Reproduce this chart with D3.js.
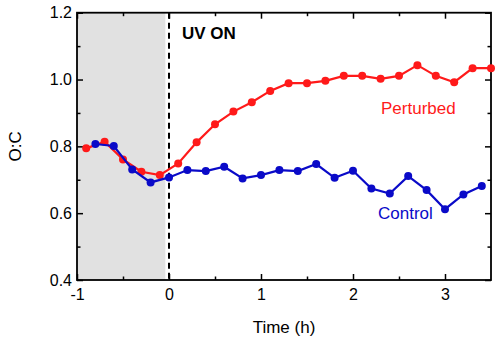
<!DOCTYPE html>
<html><head><meta charset="utf-8">
<script src="https://cdn.jsdelivr.net/npm/d3@7"></script>
<style>body{margin:0;background:#fff}svg{display:block;font-family:"Liberation Sans",Arial,sans-serif}</style>
</head><body><svg id="c" width="500" height="343"></svg>
<script>
const perturbedTime = [-0.9,-0.7,-0.5,-0.3,-0.1,0.1,0.3,0.5,0.7,0.9,1.1,1.3,1.5,1.7,1.9,2.1,2.3,2.5,2.7,2.9,3.1,3.3,3.5];
const perturbedOC   = [0.794,0.814,0.761,0.724,0.714,0.749,0.812,0.866,0.904,0.932,0.966,0.989,0.989,0.996,1.011,1.011,1.002,1.011,1.043,1.011,0.992,1.034,1.034];
const controlTime = [-0.8,-0.6,-0.4,-0.2,0,0.2,0.4,0.6,0.8,1.0,1.2,1.4,1.6,1.8,2.0,2.2,2.4,2.6,2.8,3.0,3.2,3.4];
const controlOC   = [0.807,0.801,0.731,0.692,0.707,0.729,0.726,0.739,0.704,0.714,0.729,0.726,0.747,0.706,0.727,0.674,0.659,0.711,0.669,0.612,0.656,0.681];
const xTicks = [-1,0,1,2,3];
const xTickLabels = ["-1","0","1","2","3"];
const yTicks = [0.4,0.6,0.8,1.0,1.2];
const yTickLabels = ["0.4","0.6","0.8","1.0","1.2"];
const xMinor = [-0.5,0.5,1.5,2.5];
const yMinor = [0.5,0.7,0.9,1.1];

const svg = d3.select("#c");
const L=77, R=491, T=12.7, B=280;
const x = d3.scaleLinear().domain([-1,3.5]).range([L,R]);
const y = d3.scaleLinear().domain([0.4,1.2]).range([B,T]);

// shaded pre-UV region
svg.append("rect").attr("x",x(-1)).attr("y",T).attr("width",x(-0.04)-x(-1)).attr("height",B-T).attr("fill","#e1e1e1");

// dashed UV line
svg.append("line").attr("x1",x(0)).attr("x2",x(0)).attr("y1",T).attr("y2",B)
  .attr("stroke","#000").attr("stroke-width",2).attr("stroke-dasharray","6,4");

// axes
const fs = "16px";
const axB = svg.append("g").attr("transform",`translate(0,${B})`)
  .call(d3.axisBottom(x).tickValues(xTicks).tickFormat((d,i)=>xTickLabels[i]).tickSizeInner(-6).tickSizeOuter(0).tickPadding(9));
const axBm = svg.append("g").attr("transform",`translate(0,${B})`)
  .call(d3.axisBottom(x).tickValues(xMinor).tickFormat("").tickSizeInner(-3.5).tickSizeOuter(0));
const axT = svg.append("g").attr("transform",`translate(0,${T})`)
  .call(d3.axisTop(x).tickValues(xTicks).tickFormat("").tickSizeInner(-6).tickSizeOuter(0));
const axTm = svg.append("g").attr("transform",`translate(0,${T})`)
  .call(d3.axisTop(x).tickValues(xMinor).tickFormat("").tickSizeInner(-3.5).tickSizeOuter(0));
const axL = svg.append("g").attr("transform",`translate(${L},0)`)
  .call(d3.axisLeft(y).tickValues(yTicks).tickFormat((d,i)=>yTickLabels[i]).tickSizeInner(-6).tickSizeOuter(0).tickPadding(5));
const axLm = svg.append("g").attr("transform",`translate(${L},0)`)
  .call(d3.axisLeft(y).tickValues(yMinor).tickFormat("").tickSizeInner(-3.5).tickSizeOuter(0));
const axR = svg.append("g").attr("transform",`translate(${R},0)`)
  .call(d3.axisRight(y).tickValues(yTicks).tickFormat("").tickSizeInner(-6).tickSizeOuter(0));
const axRm = svg.append("g").attr("transform",`translate(${R},0)`)
  .call(d3.axisRight(y).tickValues(yMinor).tickFormat("").tickSizeInner(-3.5).tickSizeOuter(0));
[axB,axBm,axT,axTm,axL,axLm,axR,axRm].forEach(g=>{
  g.select(".domain").remove();
  g.selectAll(".tick line").attr("stroke","#000").attr("stroke-width",1.5);
  g.selectAll(".tick text").attr("fill","#000").style("font-size",fs).style("font-family","'Liberation Sans',Arial,sans-serif");
});

// frame
svg.append("rect").attr("x",L).attr("y",T).attr("width",R-L).attr("height",B-T)
  .attr("fill","none").attr("stroke","#000").attr("stroke-width",1.8);

// series
function drawSeries(xs, ys, color){
  const pts = xs.map((d,i)=>[d,ys[i]]);
  svg.append("path").datum(pts)
    .attr("d", d3.line().x(d=>x(d[0])).y(d=>y(d[1])))
    .attr("fill","none").attr("stroke",color).attr("stroke-width",2.2);
  svg.append("g").selectAll("circle").data(pts).join("circle")
    .attr("cx",d=>x(d[0])).attr("cy",d=>y(d[1])).attr("r",4).attr("fill",color);
}
drawSeries(perturbedTime, perturbedOC, "#ff1a1a");
drawSeries(controlTime, controlOC, "#0a0ac8");

// labels
svg.append("text").attr("x",182).attr("y",39).text("UV ON")
  .style("font-size","17px").style("font-weight","bold").attr("fill","#000");
svg.append("text").attr("x",381).attr("y",114).text("Perturbed")
  .style("font-size","17px").attr("fill","#ff1a1a");
svg.append("text").attr("x",378).attr("y",219).text("Control")
  .style("font-size","17px").attr("fill","#0a0ac8");
svg.append("text").attr("x",(L+R)/2).attr("y",333).attr("text-anchor","middle").text("Time (h)")
  .style("font-size","17px").attr("fill","#000");
svg.append("text").attr("transform",`translate(21,${y(0.8)}) rotate(-90)`).attr("text-anchor","middle").text("O:C")
  .style("font-size","17px").attr("fill","#000");
</script></body></html>
